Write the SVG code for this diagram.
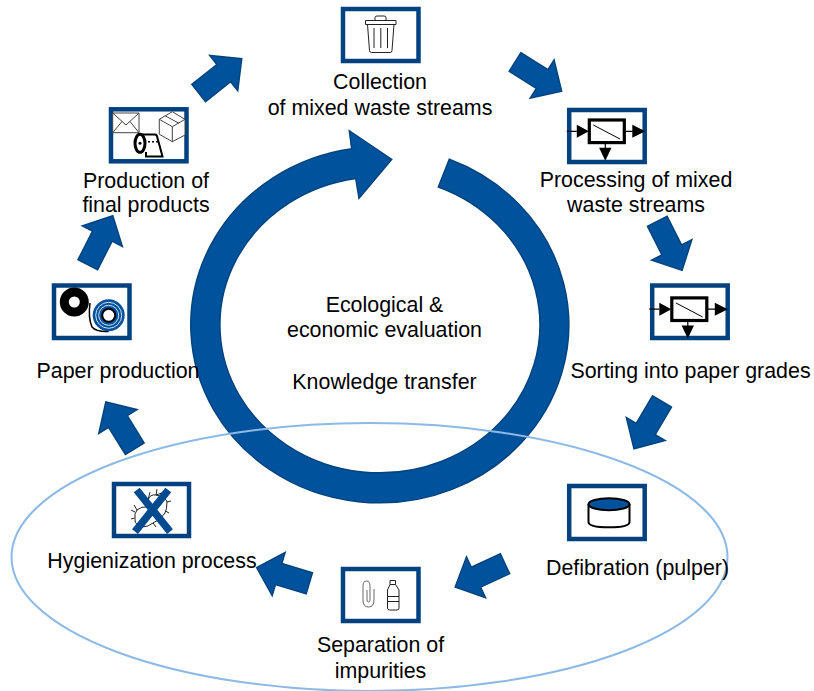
<svg xmlns="http://www.w3.org/2000/svg" width="814" height="691" viewBox="0 0 814 691">
<style>
text{font-family:"Liberation Sans",Arial,sans-serif;font-size:21.400px;fill:#000;text-anchor:middle}
.box{fill:#fff;stroke:#004280;stroke-width:4.500}
.fl{fill:#00529c;stroke:#00447f;stroke-width:1.500}
.thin{fill:none;stroke:#222;stroke-width:1}
</style>
<defs>
<polygon id="arr" class="fl" points="0,-11 32,-11 32,-22.500 55,0 32,22.500 32,11 0,11"/>
<g id="sep">
<rect x="-17.500" y="-11.300" width="35" height="22.600" fill="#fff" stroke="#000" stroke-width="3.200"/>
<path d="M-13.500,-6.300L13.200,7.700" stroke="#000" stroke-width="1" fill="none"/>
<path d="M-40,0H-30M17.500,0H26M-1.500,11.300V17" stroke="#000" stroke-width="1.200" fill="none"/>
<path d="M-30,-6.500L-18,0L-30,6.500Z M25.500,-6.500L38.500,0L25.500,6.500Z M-7.700,16.400H4.700L-1.500,29.400Z" fill="#000"/>
</g>
</defs>
<g id="connectors">
<use href="#arr" transform="translate(198.700,93) rotate(-38.500)"/>
<use href="#arr" transform="translate(515,62) rotate(32)"/>
<use href="#arr" transform="translate(657.300,221.300) rotate(63.200)"/>
<use href="#arr" transform="translate(662,401.500) rotate(120.600)"/>
<use href="#arr" transform="translate(505,563.700) rotate(155)"/>
<use href="#arr" transform="translate(309.300,583.300) rotate(196.700)"/>
<use href="#arr" transform="translate(134.800,448.700) rotate(238.200)"/>
<use href="#arr" transform="translate(87.800,264.700) rotate(-63)"/>
<path id="ring" class="fl" d="M449.300,159.300 A189,178 0 1 1 351.700,148.800 L349.300,130.700 L391.700,159.300 L359,198.300 L355.700,178.500 A160,148 0 1 0 438.300,187 Z"/>
<ellipse id="scope" cx="369.500" cy="557" rx="358" ry="134" fill="none" stroke="#8db9e6" stroke-width="2"/>
</g>
<g id="n-collection">
<rect class="box" x="343" y="9" width="75.500" height="52"/>
<path class="thin" d="M365.500,20.500H396V24.500H365.500ZM375,20.500V17.500Q375,16 377,16H384Q386,16 386,17.500V20.500M367.500,24.500L369.500,50.500Q369.500,52.500 371.500,52.500H390Q392,52.500 392,50.500L394,24.500M374,28V48M380.800,28V48M387.500,28V48"/>
<text x="380" y="89">Collection</text><text x="380" y="115">of mixed waste streams</text>
</g>
<g id="n-processing">
<rect class="box" x="569.200" y="110" width="75.500" height="52"/>
<use href="#sep" transform="translate(606.800,131.300)"/>
<text x="636" y="187">Processing of mixed</text><text x="636" y="212">waste streams</text>
</g>
<g id="n-sorting">
<rect class="box" x="652.200" y="285.500" width="75.500" height="52.500"/>
<use href="#sep" transform="translate(689.300,309.200)"/>
<text x="690.500" y="378">Sorting into paper grades</text>
</g>
<g id="n-defibration">
<rect class="box" x="569.200" y="486" width="75.500" height="53"/>
<path d="M588.500,504V522Q588.500,527.300 609,527.300Q629.500,527.300 629.500,522V504" fill="#fff" stroke="#000" stroke-width="2"/>
<ellipse cx="609" cy="504.300" rx="20.500" ry="6" fill="#00529c" stroke="#000" stroke-width="2"/>
<text x="637.500" y="575">Defibration (pulper)</text>
</g>
<g id="n-separation">
<rect class="box" x="343" y="569" width="75.500" height="52"/>
<path d="M374,589V600Q374,607 368.500,607Q363,607 363,600V586Q363,581 366.500,581Q370,581 370,586V600Q370,602 368.500,602Q367,602 367,600V590" fill="none" stroke="#666" stroke-width="1"/>
<path class="thin" d="M390,580.500H395.500V584.500L399,590V608Q399,610 397,610H389.500Q387.500,610 387.500,608V590L390,584.500ZM390,584.500H395.500M387.500,596.500H399M387.500,601.500H399"/>
<text x="380.500" y="652">Separation of</text><text x="380.500" y="678">impurities</text>
</g>
<g id="n-hygienization">
<rect class="box" x="114" y="484" width="75" height="52"/>
<path class="thin" d="M148,500Q150,494 156,495Q166,497 167,502Q167,509 165,513Q161,520 153,523Q148,527 142,527Q135,525 135,520Q134,513 137,510Q142,506 147,507Q148,504 148,500M148,500L150,492M156,495L157,489M156,495L162,493M167,502L171,501M165.500,511L169,513M160,519L163,524M153,523L156,527M135,512L131,510M134.500,518L131,519M137,510L134,505"/>
<path d="M136.700,490L170,531.700M168.300,490L135,531.700" stroke="#004a8f" stroke-width="7.500" fill="none"/>
<text x="152" y="568">Hygienization process</text>
</g>
<g id="n-paper">
<rect class="box" x="54" y="285.500" width="75.500" height="52.500"/>
<circle cx="74.300" cy="302" r="10" fill="#fff" stroke="#000" stroke-width="9"/>
<path d="M90,303Q88,318 92,327Q96,332 108.700,331.500" fill="none" stroke="#000" stroke-width="1.500"/>
<circle cx="108.700" cy="315.300" r="16" fill="#00529c"/>
<circle cx="108.700" cy="315.300" r="13" fill="none" stroke="#cfe0f0" stroke-width="1"/><circle cx="108.700" cy="315.300" r="10" fill="none" stroke="#cfe0f0" stroke-width="1"/>
<circle cx="108.700" cy="315.300" r="6.500" fill="#fff" stroke="#000" stroke-width="2"/>
<text x="118" y="378">Paper production</text>
</g>
<g id="n-production">
<rect class="box" x="111" y="109.300" width="75.500" height="52"/>
<path d="M112.700,113H139V132.700H112.700ZM112.700,113L126,125L139,113M112.700,132.700L122,121.500M139,132.700L130,121.500" fill="#fff" stroke="#444" stroke-width="1"/>
<path d="M159.300,119.300L172.300,111.700L185,119.300V135L172.300,141.700L159.300,134.300ZM159.300,119.300L172.300,126.700L185,119.300M172.300,126.700V141.700M165,115.700L179,123.300" fill="#fff" stroke="#444" stroke-width="1"/>
<path d="M140,134.500H155Q157,134.500 157.500,138L162.500,156.500H146V152" fill="#fff" stroke="#000" stroke-width="2"/>
<ellipse cx="140" cy="143.300" rx="5" ry="9" fill="#fff" stroke="#000" stroke-width="3"/>
<circle cx="140" cy="143.300" r="1.500" fill="#000"/>
<path d="M148,141.700H150M152,141.700H154M156,141.700H158" stroke="#000" stroke-width="1.500"/>
<text x="146" y="188">Production of</text><text x="146" y="212">final products</text>
</g>
<g id="center">
<text x="384.500" y="312">Ecological &amp;</text><text x="384.500" y="337">economic evaluation</text><text x="384.500" y="389">Knowledge transfer</text>
</g>
</svg>
